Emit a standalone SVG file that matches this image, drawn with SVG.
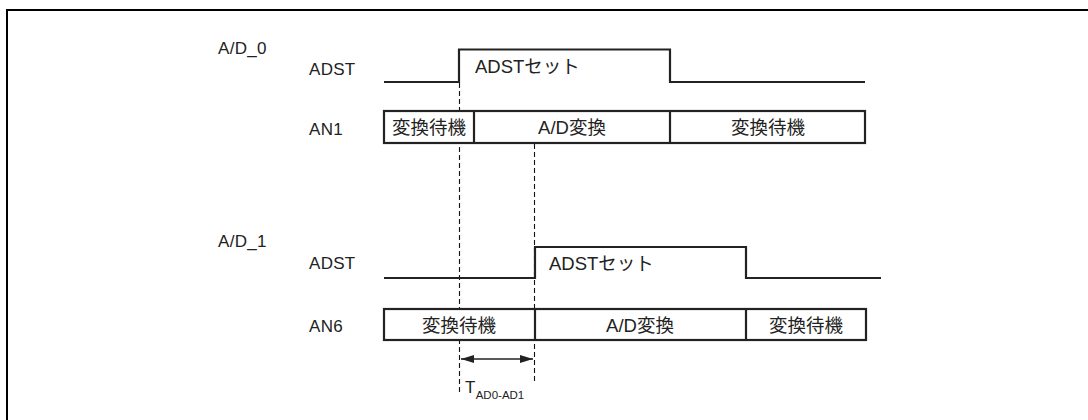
<svg xmlns="http://www.w3.org/2000/svg" width="1088" height="420" viewBox="0 0 1088 420">
<style>
.bg{fill:#fff}
.frame{fill:none;stroke:#000;stroke-width:2}
.w{fill:none;stroke:#222;stroke-width:2.2}
.box{fill:#fff;stroke:#222;stroke-width:2.2}
.d{fill:none;stroke:#111;stroke-width:1.1;stroke-dasharray:5 3}
.lat{font-family:"Liberation Sans",Arial,sans-serif;font-size:17px;fill:#222;letter-spacing:0.3px}
.jp{font-family:"Liberation Sans","Noto Sans CJK JP",sans-serif;font-size:18.5px;fill:#222}
.mid{text-anchor:middle}
.sub{font-family:"Liberation Sans",Arial,sans-serif;font-size:11.5px;fill:#222}
</style>
<defs>
<marker id="ah" viewBox="0 0 13 8" refX="13" refY="4" markerWidth="13" markerHeight="8" markerUnits="userSpaceOnUse" orient="auto-start-reverse">
<path d="M0,0 L13,4 L0,8 Z" fill="#222"/>
</marker>
</defs>
<rect class="bg" x="0" y="0" width="1088" height="420"/>
<path class="frame" d="M7,420 V10 H1088"/>

<g id="connectors">
<line class="d" x1="459.5" y1="83" x2="459.5" y2="392"/>
<line class="d" x1="534.5" y1="144" x2="534.5" y2="383"/>
<line x1="461" y1="359" x2="533" y2="359" stroke="#222" stroke-width="1.3" marker-start="url(#ah)" marker-end="url(#ah)"/>
</g>

<g id="ad0">
<text class="lat" x="218" y="54">A/D_0</text>
<text class="lat" x="309" y="75">ADST</text>
<text class="lat" x="309" y="135">AN1</text>
</g>

<g id="adst0">
<path class="w" d="M384,82 H459 V49.5 H670 V82 H865"/>
<text class="jp" x="475" y="73">ADSTセット</text>
</g>

<g id="an1">
<rect class="box" x="384" y="111" width="481" height="32"/>
<line class="w" x1="474" y1="111" x2="474" y2="143"/>
<line class="w" x1="670" y1="111" x2="670" y2="143"/>
<text class="jp mid" x="429" y="134">変換待機</text>
<text class="jp mid" x="572" y="134">A/D変換</text>
<text class="jp mid" x="768" y="134">変換待機</text>
</g>

<g id="ad1">
<text class="lat" x="218" y="247">A/D_1</text>
<text class="lat" x="309" y="269">ADST</text>
<text class="lat" x="309" y="332">AN6</text>
</g>

<g id="adst1">
<path class="w" d="M384,278 H535 V247 H746 V278 H881"/>
<text class="jp" x="549" y="270">ADSTセット</text>
</g>

<g id="an6">
<rect class="box" x="384" y="309" width="482" height="31"/>
<line class="w" x1="535" y1="309" x2="535" y2="340"/>
<line class="w" x1="746" y1="309" x2="746" y2="340"/>
<text class="jp mid" x="459" y="332">変換待機</text>
<text class="jp mid" x="640" y="332">A/D変換</text>
<text class="jp mid" x="806" y="332">変換待機</text>
</g>

<g id="tlabel">
<text class="lat" x="465" y="393">T<tspan class="sub" dy="6" letter-spacing="0">AD0-AD1</tspan></text>
</g>
</svg>
